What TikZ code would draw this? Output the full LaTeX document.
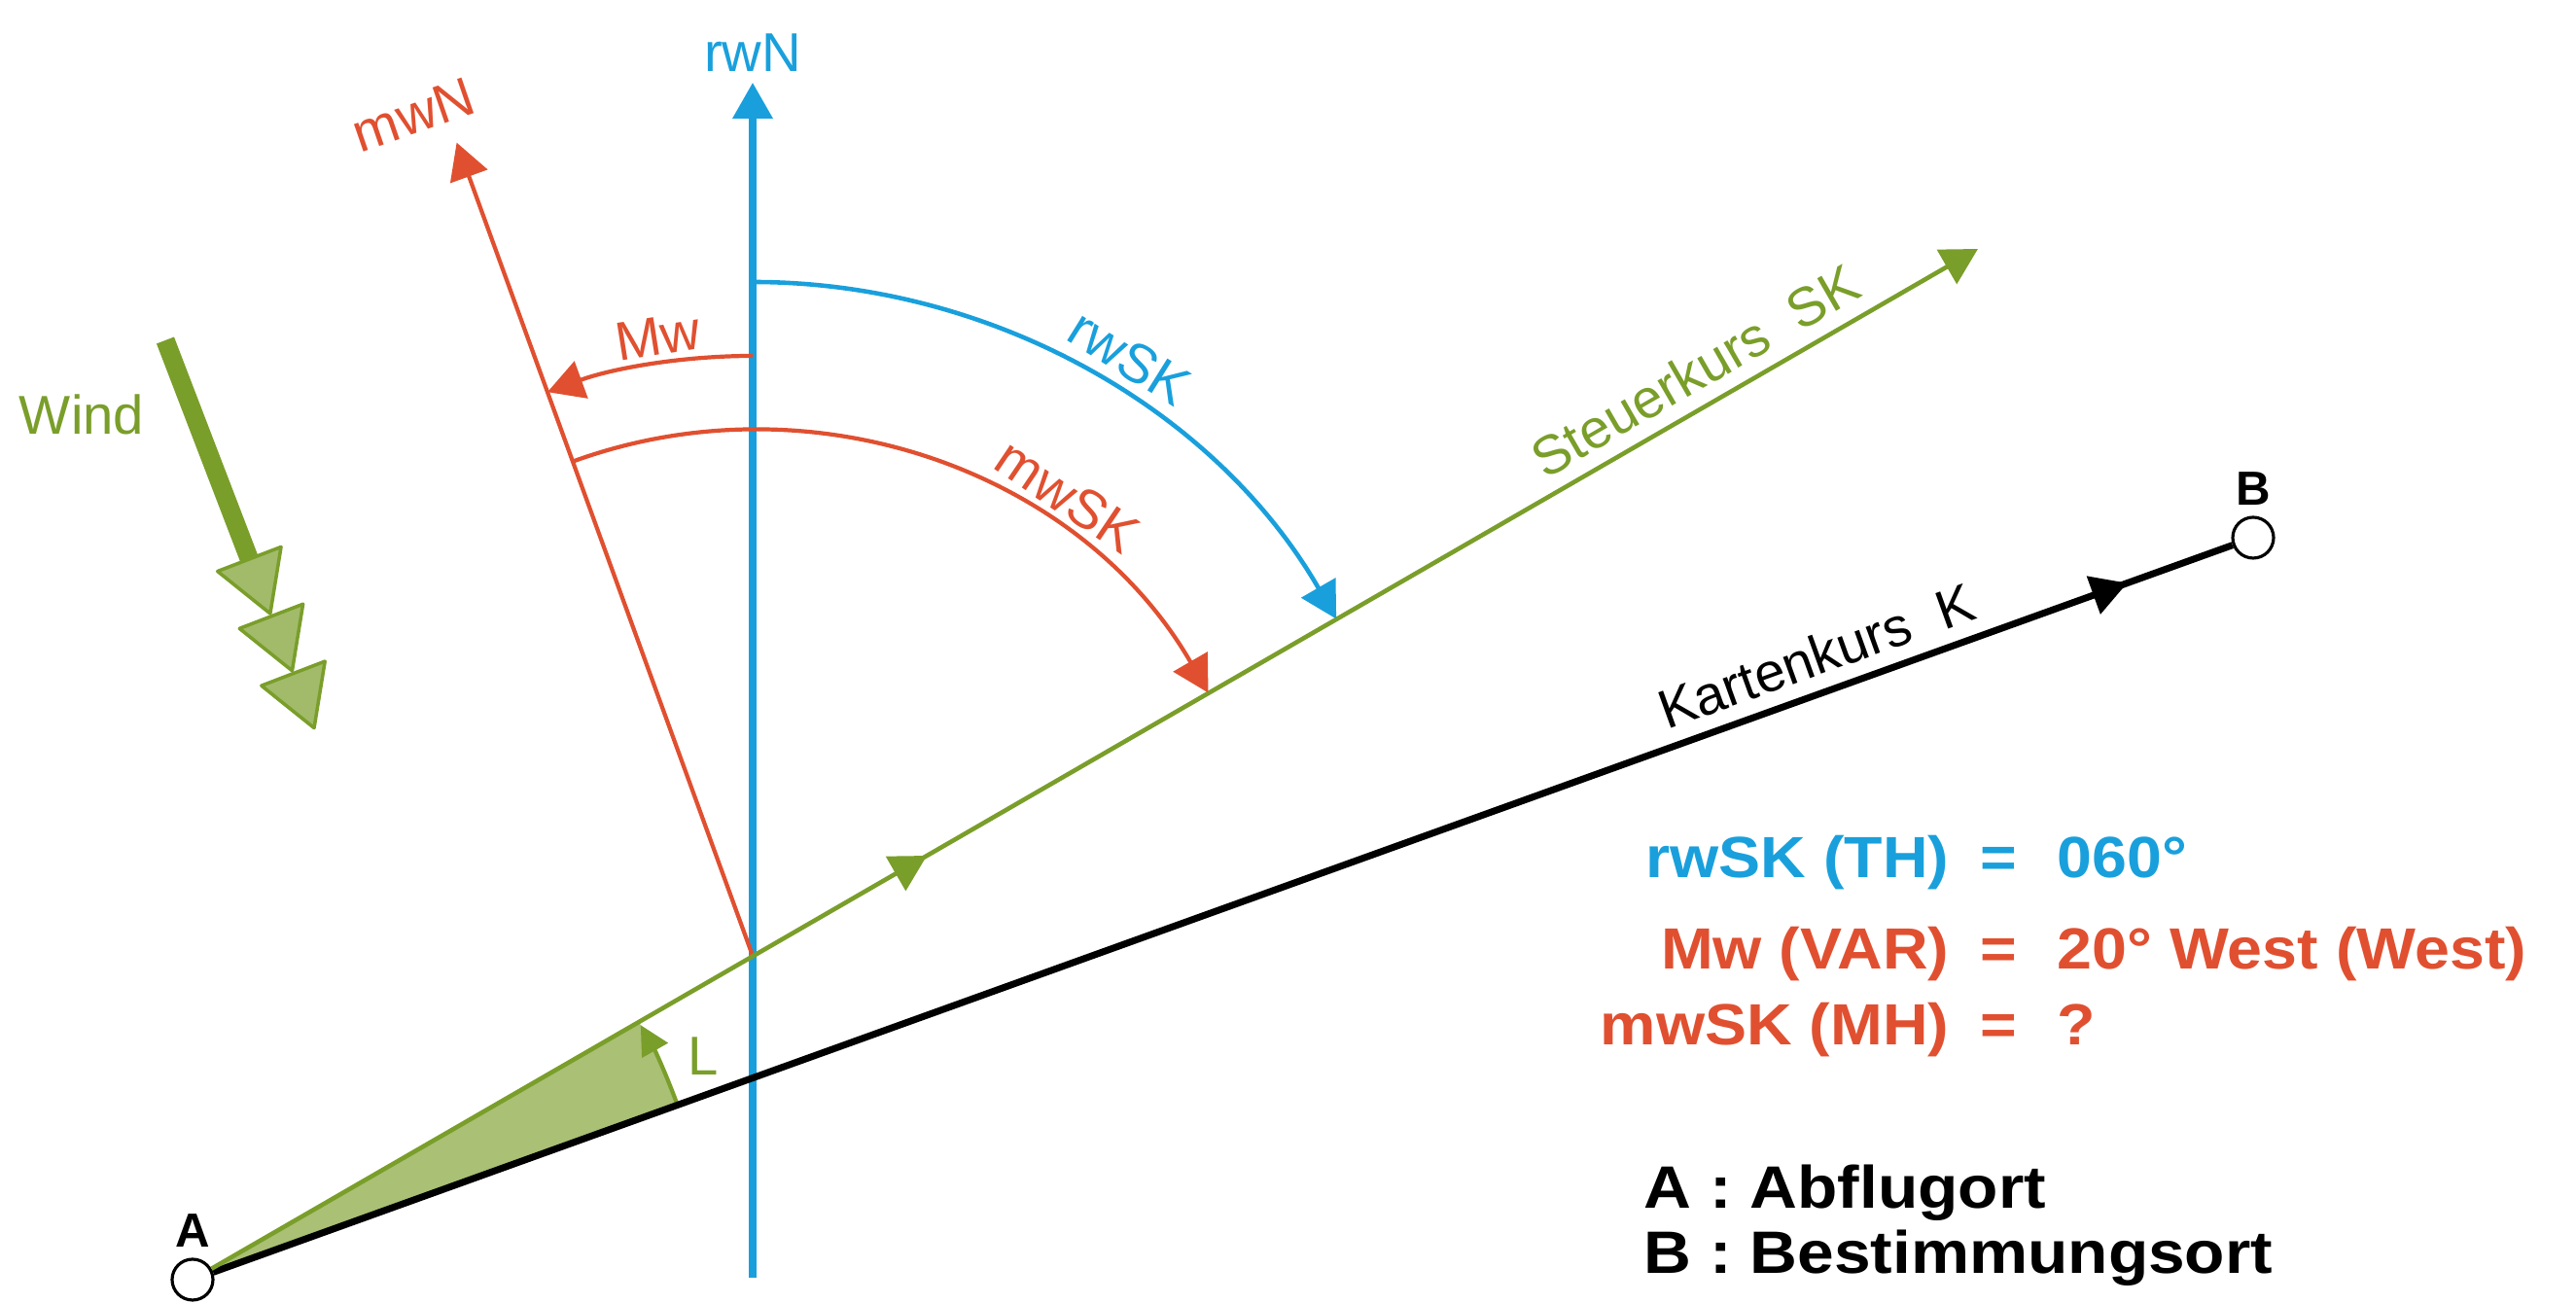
\documentclass[tikz,border=0pt]{standalone}
\usepackage{fontspec}
\setsansfont{Liberation Sans}
\newfontfamily\blockfont[FakeStretch=1.08]{Liberation Sans}
\newfontfamily\legendfont[FakeStretch=1.1]{Liberation Sans}
\usetikzlibrary{arrows.meta,calc,positioning,decorations.markings}
\definecolor{rwblue}{RGB}{25,160,220}
\definecolor{mwred}{RGB}{224,80,48}
\definecolor{skgreen}{RGB}{122,158,42}

\begin{document}
\begin{tikzpicture}[>=Latex,x=1cm,y=1cm,font=\sffamily,
    lbl/.style={font=\sffamily\fontsize{16}{19}\selectfont,inner sep=1pt},
    pointlbl/.style={font=\sffamily\bfseries\fontsize{14}{17}\selectfont,inner sep=1pt},
    headend/.style={-{Triangle[length=3.7mm,width=4mm]}},
    midhead/.style={postaction={decorate},decoration={markings,
      mark=at position #1 with {\arrow{Triangle[length=3.7mm,width=4mm]}}}},
    spot/.style={circle,draw,fill=white,line width=0.9pt,minimum size=4.2mm,inner sep=0pt},
    infotext/.style={font=\blockfont\bfseries\fontsize{17}{20}\selectfont,inner sep=0pt},
    legendtext/.style={font=\legendfont\bfseries\fontsize{17.5}{21}\selectfont,inner sep=0pt}]
  \useasboundingbox (0,0) rectangle (26.49,13.40);
  \coordinate (a) at (1.98,0.24);
  \coordinate (O) at (7.74,3.57);
  \coordinate (SK) at ($(a)+(30:21.2)$);
  \coordinate (rwTop) at (7.74,12.55);
  \coordinate (rwBot) at (7.74,0.26);
  \coordinate (mwTop) at ($(O)+(110:8.9)$);
  \fill[skgreen!65] (a) -- ($(a)+(19.8:5.3)$) arc (19.8:30:5.3) -- cycle;
  \draw[skgreen,line width=1.2pt,-{Triangle[length=3mm,width=3mm]}]
    ($(a)+(19.8:5.3)$) arc (19.8:29.6:5.3);
  \node[lbl,skgreen] (Llabel) at (7.23,2.54) {L};
  \node[spot] (A) at (a) {};
  \node[spot] (B) at (23.17,7.87) {};
  \node[pointlbl,above=2pt of A] (Alabel) {A};
  \node[pointlbl,above=2pt of B] (Blabel) {B};
  \draw[rwblue,line width=2pt,headend] (rwBot) -- (rwTop);
  \node[lbl,rwblue,above=2pt of rwTop] (rwN) {rwN};
  \draw[mwred,line width=1.2pt,headend] (O) -- (mwTop);
  \node[lbl,mwred,rotate=19] (mwN) at (4.25,12.22) {mwN};
  \draw[line width=2pt,midhead=0.948] (A) -- (B)
    node[lbl,pos=0.80,sloped,above=3pt] (Klabel) {Kartenkurs\ \ K};
  \draw[skgreen,line width=1.3pt,headend,midhead=0.405] (A) -- (SK)
    node[lbl,pos=0.85,sloped,above=3pt] (SKlabel) {Steuerkurs\ \ SK};
  \draw[rwblue,line width=1.3pt,headend] ($(O)+(90:6.93)$) arc (90:30:6.93);
  \draw[mwred,line width=1.2pt,headend] ($(O)+(110:5.41)$) arc (110:30:5.41);
  \draw[mwred,line width=1.2pt,headend] ($(O)+(90:6.17)$) arc (90:110:6.17);
  \node[lbl,rwblue,rotate=-32] (rwSK) at ($(O)+(57.8:7.27)$) {rwSK};
  \node[lbl,mwred,rotate=-34] (mwSK) at ($(O)+(55.6:5.73)$) {mwSK};
  \node[lbl,mwred,rotate=9] (Mw) at ($(O)+(98.7:6.45)$) {Mw};
  \node[lbl,skgreen] (windlabel) at (0.84,9.14) {Wind};
  \begin{scope}[shift={(1.70,9.90)},rotate=-69]
    \draw[skgreen,line width=5.5pt] (0,0) -- (2.45,0);
    \foreach \d in {2.41,3.04,3.67}
      \filldraw[draw=skgreen,fill=skgreen!70,line width=1pt,line join=round]
        (\d,0.35) -- (\d+0.6,0) -- (\d,-0.35) -- cycle;
  \end{scope}
  \foreach \yy/\cl/\lt/\rt [count=\i] in {4.37/rwblue/rwSK (TH)/060°,
      3.43/mwred/Mw (VAR)/20° West (West),2.65/mwred/mwSK (MH)/?}{
    \node[infotext,\cl,anchor=base east] (left\i) at (20.05,\yy) {\lt};
    \node[infotext,\cl,anchor=base] (eq\i) at (20.55,\yy) {=};
    \node[infotext,\cl,anchor=base west] (right\i) at (21.15,\yy) {\rt};
  }
  \node[legendtext,anchor=base west] (legA) at (16.90,0.97) {A\ :\ Abflugort};
  \node[legendtext,anchor=base west] (legB) at (16.90,0.30) {B\ :\ Bestimmungsort};
\end{tikzpicture}
\end{document}
